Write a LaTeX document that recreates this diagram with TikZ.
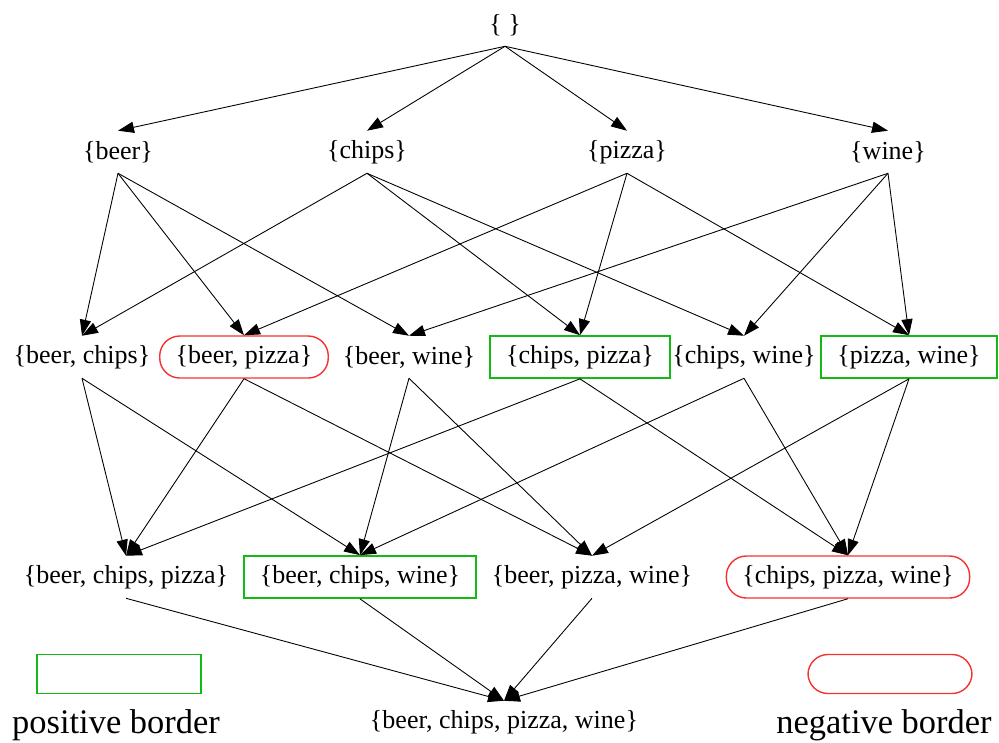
\documentclass[tikz,border=0pt]{standalone}
\usepackage{fontspec}
\setmainfont{Liberation Serif}
\usetikzlibrary{arrows.meta}
\definecolor{posgreen}{RGB}{20,185,20}
\definecolor{negred}{RGB}{245,50,50}
\begin{document}
\begin{tikzpicture}[x=0.25mm,y=-0.25mm,
	>={Triangle[length=4mm,width=2.8mm]},
	every node/.style={font=\fontsize{18.5}{22}\selectfont,minimum height=10.5mm,inner xsep=4mm,inner ysep=0pt},
	edge/.style={->,line width=0.22mm},
	posbox/.style={draw=posgreen,line width=1.2pt},
	negbox/.style={draw=negred,line width=1pt,rounded corners=5mm},
	legendtext/.style={font=\fontsize{24.5}{29}\selectfont}]
	
	\useasboundingbox (0,0) rectangle (999,742);
	
	\node (e) at (505,25) {\{ \}};
	
	\node (b) at (118,152) {\{beer\}};
	\node (c) at (367,152) {\{chips\}};
	\node (p) at (627,152) {\{pizza\}};
	\node (w) at (888,152) {\{wine\}};
	
	\node (bc) at (82,357) {\{beer, chips\}};
	\node[negbox] (bp) at (244,357) {\{beer, pizza\}};
	\node (bw) at (409,357) {\{beer, wine\}};
	\node[posbox] (cp) at (580,357) {\{chips, pizza\}};
	\node (cw) at (744,357) {\{chips, wine\}};
	\node[posbox] (pw) at (909,357) {\{pizza, wine\}};
	
	\node (bcp) at (126,577) {\{beer, chips, pizza\}};
	\node[posbox] (bcw) at (360,577) {\{beer, chips, wine\}};
	\node (bpw) at (592,577) {\{beer, pizza, wine\}};
	\node[negbox] (cpw) at (848,577) {\{chips, pizza, wine\}};
	
	\node (bcpw) at (504,722) {\{beer, chips, pizza, wine\}};
	
	\draw[edge] (e.south) -- (b.north);
	\draw[edge] (e.south) -- (c.north);
	\draw[edge] (e.south) -- (p.north);
	\draw[edge] (e.south) -- (w.north);
	
	\draw[edge] (b.south) -- (bc.north);
	\draw[edge] (b.south) -- (bp.north);
	\draw[edge] (b.south) -- (bw.north);
	\draw[edge] (c.south) -- (bc.north);
	\draw[edge] (c.south) -- (cp.north);
	\draw[edge] (c.south) -- (cw.north);
	\draw[edge] (p.south) -- (bp.north);
	\draw[edge] (p.south) -- (cp.north);
	\draw[edge] (p.south) -- (pw.north);
	\draw[edge] (w.south) -- (bw.north);
	\draw[edge] (w.south) -- (cw.north);
	\draw[edge] (w.south) -- (pw.north);
	
	\draw[edge] (bc.south) -- (bcp.north);
	\draw[edge] (bc.south) -- (bcw.north);
	\draw[edge] (bp.south) -- (bcp.north);
	\draw[edge] (bp.south) -- (bpw.north);
	\draw[edge] (bw.south) -- (bcw.north);
	\draw[edge] (bw.south) -- (bpw.north);
	\draw[edge] (cp.south) -- (bcp.north);
	\draw[edge] (cp.south) -- (cpw.north);
	\draw[edge] (cw.south) -- (bcw.north);
	\draw[edge] (cw.south) -- (cpw.north);
	\draw[edge] (pw.south) -- (bpw.north);
	\draw[edge] (pw.south) -- (cpw.north);
	
	\draw[edge] (bcp.south) -- (bcpw.north);
	\draw[edge] (bcw.south) -- (bcpw.north);
	\draw[edge] (bpw.south) -- (bcpw.north);
	\draw[edge] (cpw.south) -- (bcpw.north);
	
	% legend
	\node[posbox,minimum width=41mm,minimum height=9.75mm] (pos) at (119,674) {};
	\node[negbox,minimum width=41mm,minimum height=9.75mm] (neg) at (890,674) {};
	\node[legendtext] (posl) at (116,725) {positive border};
	\node[legendtext] (negl) at (884,725) {negative border};
\end{tikzpicture}
\end{document}
